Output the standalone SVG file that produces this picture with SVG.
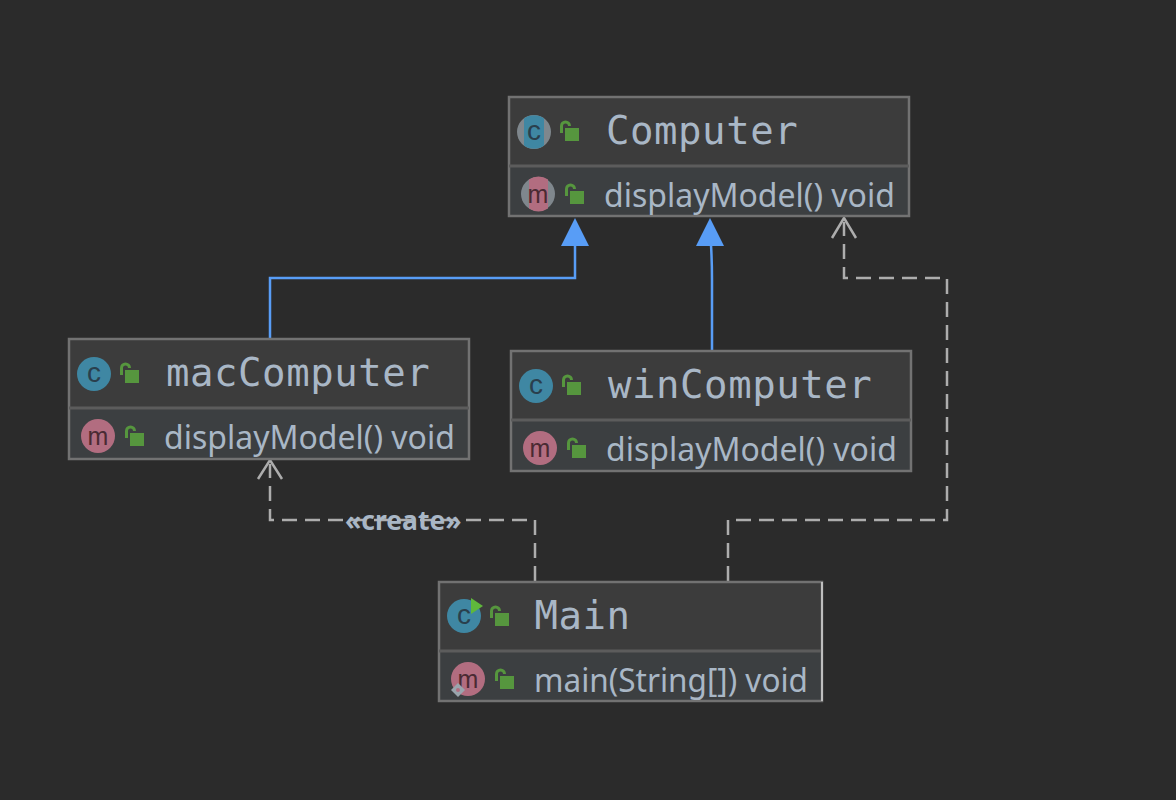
<svg xmlns="http://www.w3.org/2000/svg" width="1176" height="800" viewBox="0 0 1176 800">
<style>
.box{fill:#3c3f41;stroke:none}
.head{fill:#3c3c3c}
.frame{fill:none;stroke:#727272;stroke-width:2.5}
.sep{stroke:#5c5c5c;stroke-width:3}
.title{font-family:"DejaVu Sans Mono",monospace;font-size:39px;letter-spacing:.55px;fill:#a9b7c6}
.member{font-family:"Noto Sans",sans-serif;font-size:32px;fill:#a9b7c6}
.label{font-family:"Noto Sans",sans-serif;font-size:26.500px;font-weight:700;fill:#a9b7c6}
.ci{fill:#3f87a3}.mi{fill:#b26d80}
.glyph{font-family:"Liberation Sans",sans-serif;fill:#2a3f4d;text-anchor:middle}
.gm{font-family:"Liberation Sans",sans-serif;fill:#4a2a33;text-anchor:middle}
.ring{fill:#7f878d}
.lock{fill:#56963e}.shackle{fill:none;stroke:#56963e;stroke-width:3}
.inh{fill:none;stroke:#589df6;stroke-width:2.5}
.tip{fill:#589df6}
.dep{fill:none;stroke:#adadad;stroke-width:2.5;stroke-dasharray:15 8}
.open{fill:none;stroke:#adadad;stroke-width:2.5}
</style>
<defs>
<g id="lk"><path class="shackle" d="M1.500 4V-3a4 4 0 0 1 8 0"/><rect class="lock" x="5" y="-1" width="14" height="13"/></g>
</defs>
<rect width="1176" height="800" fill="#2b2b2b"/>
<g id="connectors">
<path class="inh" d="M270 338V278H575V245"/>
<polygon class="tip" points="575,218 561,246 589,246"/>
<path class="inh" d="M712 350V280Q712 262 711 245"/>
<polygon class="tip" points="710,218 696,246 724,246"/>
<path class="dep" d="M728 581V520H947V278H844V222"/>
<path class="open" d="M832 238L844 218L856 238"/>
<path class="dep" d="M535 581V520H270V464"/>
<path class="open" d="M258 479L270 460L282 479"/>
<text class="label" x="345" y="530">«create»</text>
</g>
<g id="computer">
<rect class="head" x="509" y="97" width="400" height="69"/><rect class="box" x="509" y="166" width="400" height="50"/>
<rect class="frame" x="509" y="97" width="400" height="119"/><line class="sep" x1="509" y1="166" x2="909" y2="166"/>
<circle class="ring" cx="534" cy="132" r="17"/><path class="ci" d="M524 118.500A17 17 0 0 1 544 118.500V145.500A17 17 0 0 1 524 145.500Z"/>
<text class="glyph" x="534" y="140" font-size="28">c</text>
<use href="#lk" x="560" y="129"/>
<text class="title" x="606" y="144">Computer</text>
<circle class="ring" cx="538" cy="194" r="17"/><path class="mi" d="M529 179.500A17 17 0 0 1 548 179.500V208.500A17 17 0 0 1 529 208.500Z"/>
<text class="gm" x="538" y="203" font-size="25">m</text>
<use href="#lk" x="565" y="192"/>
<text class="member" x="604" y="207">displayModel() void</text>
</g>
<g id="macComputer">
<rect class="head" x="69" y="339" width="400" height="69"/><rect class="box" x="69" y="408" width="400" height="51"/>
<rect class="frame" x="69" y="339" width="400" height="120"/><line class="sep" x1="69" y1="408" x2="469" y2="408"/>
<circle class="ci" cx="94" cy="374" r="17"/>
<text class="glyph" x="94" y="382" font-size="28">c</text>
<use href="#lk" x="120" y="371"/>
<text class="title" x="166" y="386">macComputer</text>
<circle class="mi" cx="98" cy="436" r="17"/>
<text class="gm" x="98" y="445" font-size="25">m</text>
<use href="#lk" x="125" y="434"/>
<text class="member" x="164" y="449">displayModel() void</text>
</g>
<g id="winComputer">
<rect class="head" x="511" y="351" width="400" height="69"/><rect class="box" x="511" y="420" width="400" height="51"/>
<rect class="frame" x="511" y="351" width="400" height="120"/><line class="sep" x1="511" y1="420" x2="911" y2="420"/>
<circle class="ci" cx="536" cy="386" r="17"/>
<text class="glyph" x="536" y="394" font-size="28">c</text>
<use href="#lk" x="562" y="383"/>
<text class="title" x="608" y="398">winComputer</text>
<circle class="mi" cx="540" cy="448" r="17"/>
<text class="gm" x="540" y="457" font-size="25">m</text>
<use href="#lk" x="567" y="446"/>
<text class="member" x="606" y="461">displayModel() void</text>
</g>
<g id="main">
<rect class="head" x="439" y="582" width="383" height="69"/><rect class="box" x="439" y="651" width="383" height="50"/>
<rect class="frame" x="439" y="582" width="383" height="119"/><line class="sep" x1="439" y1="651" x2="822" y2="651"/>
<line x1="822" y1="582" x2="822" y2="701" stroke="#d8d8d8" stroke-width="1.500"/>
<circle class="ci" cx="464" cy="616" r="17"/>
<text class="glyph" x="464" y="624" font-size="28">c</text>
<polygon points="471,598 483,606 471,614" fill="#5fb83c"/>
<use href="#lk" x="490" y="614"/>
<text class="title" x="534.500" y="629">Main</text>
<circle class="mi" cx="468" cy="679" r="17"/>
<text class="gm" x="468" y="688" font-size="25">m</text>
<polygon points="458,683 465,690 458,697 451,690" fill="#9aa5ad"/><circle cx="458" cy="690" r="2" fill="#b26d80"/>
<use href="#lk" x="495" y="677"/>
<text class="member" x="534" y="692" textLength="274" lengthAdjust="spacingAndGlyphs">main(String[]) void</text>
</g>
</svg>
